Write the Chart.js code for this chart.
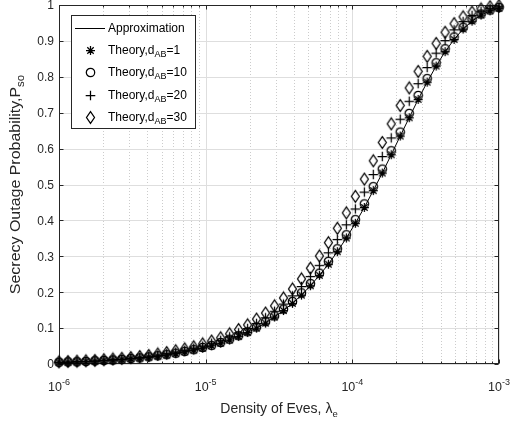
<!DOCTYPE html>
<html>
<head>
<meta charset="utf-8">
<script src="https://cdn.jsdelivr.net/npm/chart.js@4.4.0/dist/chart.umd.min.js"></script>
<style>
  html, body { margin: 0; padding: 0; background: #ffffff; }
  #wrap { width: 512px; height: 427px; }
</style>
</head>
<body>
<div id="wrap"><canvas id="c" width="512" height="427"></canvas></div>
<script>
// Density of eavesdroppers (log-spaced sample points)
const lambdaE = [
  1.000e-6, 1.151e-6, 1.326e-6, 1.526e-6, 1.758e-6, 2.024e-6, 2.330e-6, 2.683e-6, 3.089e-6, 3.556e-6,
  4.095e-6, 4.715e-6, 5.428e-6, 6.250e-6, 7.196e-6, 8.286e-6, 9.540e-6, 1.098e-5, 1.265e-5, 1.456e-5,
  1.677e-5, 1.931e-5, 2.223e-5, 2.559e-5, 2.947e-5, 3.393e-5, 3.906e-5, 4.498e-5, 5.179e-5, 5.963e-5,
  6.866e-5, 7.905e-5, 9.102e-5, 1.048e-4, 1.207e-4, 1.389e-4, 1.600e-4, 1.842e-4, 2.121e-4, 2.442e-4,
  2.811e-4, 3.237e-4, 3.727e-4, 4.291e-4, 4.941e-4, 5.689e-4, 6.550e-4, 7.542e-4, 8.683e-4, 1.000e-3
];

// Secrecy outage probability
const approximation = [
  0.005, 0.005, 0.006, 0.007, 0.008, 0.010, 0.011, 0.013, 0.015, 0.017,
  0.019, 0.022, 0.025, 0.029, 0.034, 0.039, 0.044, 0.051, 0.058, 0.067,
  0.077, 0.088, 0.100, 0.114, 0.131, 0.149, 0.169, 0.192, 0.218, 0.247,
  0.278, 0.313, 0.351, 0.392, 0.436, 0.483, 0.532, 0.583, 0.635, 0.686,
  0.737, 0.785, 0.830, 0.870, 0.904, 0.933, 0.955, 0.972, 0.984, 0.991
];
const theoryD1 = [
  0.005, 0.005, 0.006, 0.007, 0.008, 0.010, 0.011, 0.013, 0.015, 0.017,
  0.019, 0.022, 0.025, 0.029, 0.034, 0.039, 0.044, 0.051, 0.058, 0.067,
  0.077, 0.088, 0.100, 0.114, 0.131, 0.149, 0.169, 0.192, 0.218, 0.247,
  0.278, 0.313, 0.351, 0.392, 0.436, 0.483, 0.532, 0.583, 0.635, 0.686,
  0.737, 0.785, 0.830, 0.870, 0.904, 0.933, 0.955, 0.972, 0.984, 0.991
];
const theoryD10 = [
  0.005, 0.006, 0.006, 0.007, 0.009, 0.010, 0.011, 0.013, 0.015, 0.017,
  0.020, 0.023, 0.026, 0.030, 0.035, 0.040, 0.046, 0.052, 0.060, 0.069,
  0.079, 0.090, 0.103, 0.118, 0.134, 0.153, 0.174, 0.198, 0.224, 0.253,
  0.286, 0.321, 0.360, 0.402, 0.446, 0.494, 0.543, 0.594, 0.646, 0.698,
  0.748, 0.795, 0.839, 0.878, 0.911, 0.938, 0.960, 0.975, 0.986, 0.993
];
const theoryD20 = [
  0.005, 0.006, 0.007, 0.008, 0.009, 0.011, 0.013, 0.014, 0.017, 0.019,
  0.022, 0.025, 0.029, 0.033, 0.038, 0.044, 0.050, 0.058, 0.066, 0.076,
  0.087, 0.099, 0.113, 0.129, 0.147, 0.167, 0.190, 0.216, 0.244, 0.275,
  0.310, 0.347, 0.388, 0.432, 0.479, 0.528, 0.578, 0.630, 0.682, 0.732,
  0.781, 0.826, 0.866, 0.901, 0.931, 0.954, 0.971, 0.983, 0.991, 0.995
];
const theoryD30 = [
  0.006, 0.007, 0.008, 0.009, 0.010, 0.012, 0.014, 0.016, 0.018, 0.021,
  0.024, 0.028, 0.032, 0.037, 0.042, 0.048, 0.056, 0.064, 0.073, 0.084,
  0.096, 0.109, 0.125, 0.142, 0.162, 0.184, 0.209, 0.237, 0.267, 0.301,
  0.338, 0.378, 0.421, 0.467, 0.515, 0.566, 0.617, 0.669, 0.720, 0.769,
  0.815, 0.857, 0.893, 0.924, 0.948, 0.967, 0.980, 0.989, 0.995, 0.998
];

// Axis ticks
const xTickExponents = [-6, -5, -4, -3];
const yTicks = [0, 0.1, 0.2, 0.3, 0.4, 0.5, 0.6, 0.7, 0.8, 0.9, 1];
const yTickLabels = ['0', '0.1', '0.2', '0.3', '0.4', '0.5', '0.6', '0.7', '0.8', '0.9', '1'];

// Legend labels: main text, subscript, trailing text
const legendLabels = [
  ['Approximation', '', ''],
  ['Theory,d', 'AB', '=1'],
  ['Theory,d', 'AB', '=10'],
  ['Theory,d', 'AB', '=20'],
  ['Theory,d', 'AB', '=30']
];

const FONT = "'Liberation Sans', Arial, Helvetica, sans-serif";
const INK = '#262626';

// Marker glyphs drawn on small canvases, used as point styles
function makeMarker(kind) {
  const cv = document.createElement('canvas');
  cv.width = 15; cv.height = 15;
  const g = cv.getContext('2d');
  const c = 7.5;
  g.strokeStyle = '#000';
  g.lineWidth = 1.25;
  g.beginPath();
  if (kind === 'asterisk') {
    const r = 4.5, d = 3.2;
    g.moveTo(c - r, c); g.lineTo(c + r, c);
    g.moveTo(c, c - r); g.lineTo(c, c + r);
    g.moveTo(c - d, c - d); g.lineTo(c + d, c + d);
    g.moveTo(c - d, c + d); g.lineTo(c + d, c - d);
  } else if (kind === 'circle') {
    g.arc(c, c, 4.2, 0, Math.PI * 2);
  } else if (kind === 'plus') {
    const r = 4.8;
    g.moveTo(c - r, c); g.lineTo(c + r, c);
    g.moveTo(c, c - r); g.lineTo(c, c + r);
  } else if (kind === 'diamond') {
    const w = 4, h = 5.8;
    g.moveTo(c, c - h); g.lineTo(c + w, c); g.lineTo(c, c + h); g.lineTo(c - w, c); g.closePath();
  }
  g.stroke();
  return cv;
}
const markers = {
  asterisk: makeMarker('asterisk'),
  circle: makeMarker('circle'),
  plus: makeMarker('plus'),
  diamond: makeMarker('diamond')
};

function pts(ys) { return ys.map((y, i) => ({ x: lambdaE[i], y })); }

// Text runs made of pieces [{t, size, dy}]
function richWidth(ctx, parts) {
  let w = 0;
  for (const p of parts) { ctx.font = p.size + 'px ' + FONT; w += ctx.measureText(p.t).width; }
  return w;
}
function drawRich(ctx, parts, x, y) {
  let cx = x;
  for (const p of parts) {
    ctx.font = p.size + 'px ' + FONT;
    ctx.fillText(p.t, cx, y + (p.dy || 0));
    cx += ctx.measureText(p.t).width;
  }
}

// Grid, box, tick marks and axis texts
const axesPlugin = {
  id: 'axesStyle',
  beforeDatasetsDraw(chart) {
    const { ctx, chartArea: a, scales: { x, y } } = chart;
    const L = a.left, R = a.right, T = a.top, B = a.bottom;
    ctx.save();
    ctx.lineWidth = 1;
    // minor x grid (dotted)
    ctx.strokeStyle = '#cccccc';
    ctx.setLineDash([1, 2]);
    for (let k = -6; k < -3; k++) {
      for (let m = 2; m <= 9; m++) {
        const px = Math.round(x.getPixelForValue(m * Math.pow(10, k))) + 0.5;
        ctx.beginPath(); ctx.moveTo(px, T); ctx.lineTo(px, B); ctx.stroke();
      }
    }
    ctx.setLineDash([]);
    // major grid
    ctx.strokeStyle = '#dedede';
    for (const e of xTickExponents) {
      const px = Math.round(x.getPixelForValue(Math.pow(10, e))) + 0.5;
      ctx.beginPath(); ctx.moveTo(px, T); ctx.lineTo(px, B); ctx.stroke();
    }
    for (const v of yTicks) {
      const py = Math.round(y.getPixelForValue(v)) + 0.5;
      ctx.beginPath(); ctx.moveTo(L, py); ctx.lineTo(R, py); ctx.stroke();
    }
    // box
    ctx.strokeStyle = INK;
    const l = Math.round(L) + 0.5, r = Math.round(R) - 0.5, t = Math.round(T) + 0.5, b = Math.round(B) - 0.5;
    ctx.strokeRect(l, t, r - l, b - t);
    // ticks
    ctx.beginPath();
    for (const v of yTicks) {
      const py = Math.round(y.getPixelForValue(v)) + 0.5;
      ctx.moveTo(l, py); ctx.lineTo(l + 4, py);
      ctx.moveTo(r, py); ctx.lineTo(r - 4, py);
    }
    for (const e of xTickExponents) {
      const px = Math.round(x.getPixelForValue(Math.pow(10, e))) + 0.5;
      ctx.moveTo(px, b); ctx.lineTo(px, b - 4);
      ctx.moveTo(px, t); ctx.lineTo(px, t + 4);
    }
    for (let k = -6; k < -3; k++) {
      for (let m = 2; m <= 9; m++) {
        const px = Math.round(x.getPixelForValue(m * Math.pow(10, k))) + 0.5;
        ctx.moveTo(px, b); ctx.lineTo(px, b - 2);
        ctx.moveTo(px, t); ctx.lineTo(px, t + 2);
      }
    }
    ctx.stroke();

    // tick labels
    ctx.fillStyle = INK;
    ctx.textBaseline = 'middle';
    ctx.textAlign = 'right';
    ctx.font = '12px ' + FONT;
    yTicks.forEach((v, i) => {
      ctx.fillText(yTickLabels[i], L - 5, y.getPixelForValue(v) + 1);
    });
    ctx.textAlign = 'left';
    ctx.textBaseline = 'alphabetic';
    for (const e of xTickExponents) {
      const parts = [{ t: '10', size: 12.5, dy: 0 }, { t: String(e), size: 9, dy: -6 }];
      const w = richWidth(ctx, parts);
      const px = x.getPixelForValue(Math.pow(10, e));
      drawRich(ctx, parts, px - w / 2, B + 27);
    }

    // axis titles
    const xt = [{ t: 'Density of Eves, \u03bb', size: 14, dy: 0 }, { t: 'e', size: 9.5, dy: 4 }];
    const xw = richWidth(ctx, xt);
    drawRich(ctx, xt, (L + R) / 2 - xw / 2, 413);

    // vertical title: glyphs at 14px, run length stretched to span the axis
    const yt = [{ t: 'Secrecy Outage Probability,P', size: 14, dy: 0 }, { t: 'so', size: 10, dy: 4 }];
    const yw = richWidth(ctx, yt);
    const stretch = 1.14;
    ctx.translate(20, (T + B) / 2);
    ctx.rotate(-Math.PI / 2);
    ctx.scale(stretch, 1);
    drawRich(ctx, yt, -yw / 2, 0);
    ctx.restore();
  },
  afterDatasetsDraw(chart) {
    const { ctx } = chart;
    ctx.save();
    // legend box
    const bx = 71.5, by = 15.5, bw = 124, bh = 113;
    ctx.fillStyle = '#ffffff';
    ctx.fillRect(bx, by, bw, bh);
    ctx.strokeStyle = INK;
    ctx.lineWidth = 1;
    ctx.strokeRect(bx, by, bw, bh);
    const rows = [28, 50, 72, 95, 117];
    const icons = [null, markers.asterisk, markers.circle, markers.plus, markers.diamond];
    ctx.fillStyle = '#000';
    ctx.textBaseline = 'middle';
    rows.forEach((ry, i) => {
      if (i === 0) {
        ctx.strokeStyle = '#000';
        ctx.beginPath(); ctx.moveTo(75, ry + 0.5); ctx.lineTo(105, ry + 0.5); ctx.stroke();
      } else {
        const m = icons[i];
        ctx.drawImage(m, 83, ry - 7);
      }
      const [main, sub, tail] = legendLabels[i];
      const parts = [{ t: main, size: 12, dy: 0 }];
      if (sub) parts.push({ t: sub, size: 9, dy: 4 });
      if (tail) parts.push({ t: tail, size: 12, dy: 0 });
      drawRich(ctx, parts, 108, ry + 1);
    });
    ctx.restore();
  }
};

const chart = new Chart(document.getElementById('c'), {
  type: 'line',
  data: {
    datasets: [
      { label: 'Approximation', data: pts(approximation), borderColor: '#000', borderWidth: 1,
        pointRadius: 0, fill: false, tension: 0, clip: false },
      { label: 'Theory d=1', data: pts(theoryD1), showLine: false, pointStyle: markers.asterisk, pointRadius: 4, clip: false },
      { label: 'Theory d=10', data: pts(theoryD10), showLine: false, pointStyle: markers.circle, pointRadius: 4, clip: false },
      { label: 'Theory d=20', data: pts(theoryD20), showLine: false, pointStyle: markers.plus, pointRadius: 4, clip: false },
      { label: 'Theory d=30', data: pts(theoryD30), showLine: false, pointStyle: markers.diamond, pointRadius: 4, clip: false }
    ]
  },
  options: {
    responsive: false,
    animation: false,
    devicePixelRatio: 1,
    layout: { padding: { top: 5, right: 13, left: 0, bottom: 0 } },
    plugins: { legend: { display: false }, tooltip: { enabled: false } },
    scales: {
      x: {
        type: 'logarithmic', min: 1e-6, max: 1e-3,
        grid: { display: false }, border: { display: false }, ticks: { display: false },
        afterFit(s) { s.height = 63; }
      },
      y: {
        type: 'linear', min: 0, max: 1,
        grid: { display: false }, border: { display: false }, ticks: { display: false },
        afterFit(s) { s.width = 59; }
      }
    }
  },
  plugins: [axesPlugin]
});
</script>
</body>
</html>
